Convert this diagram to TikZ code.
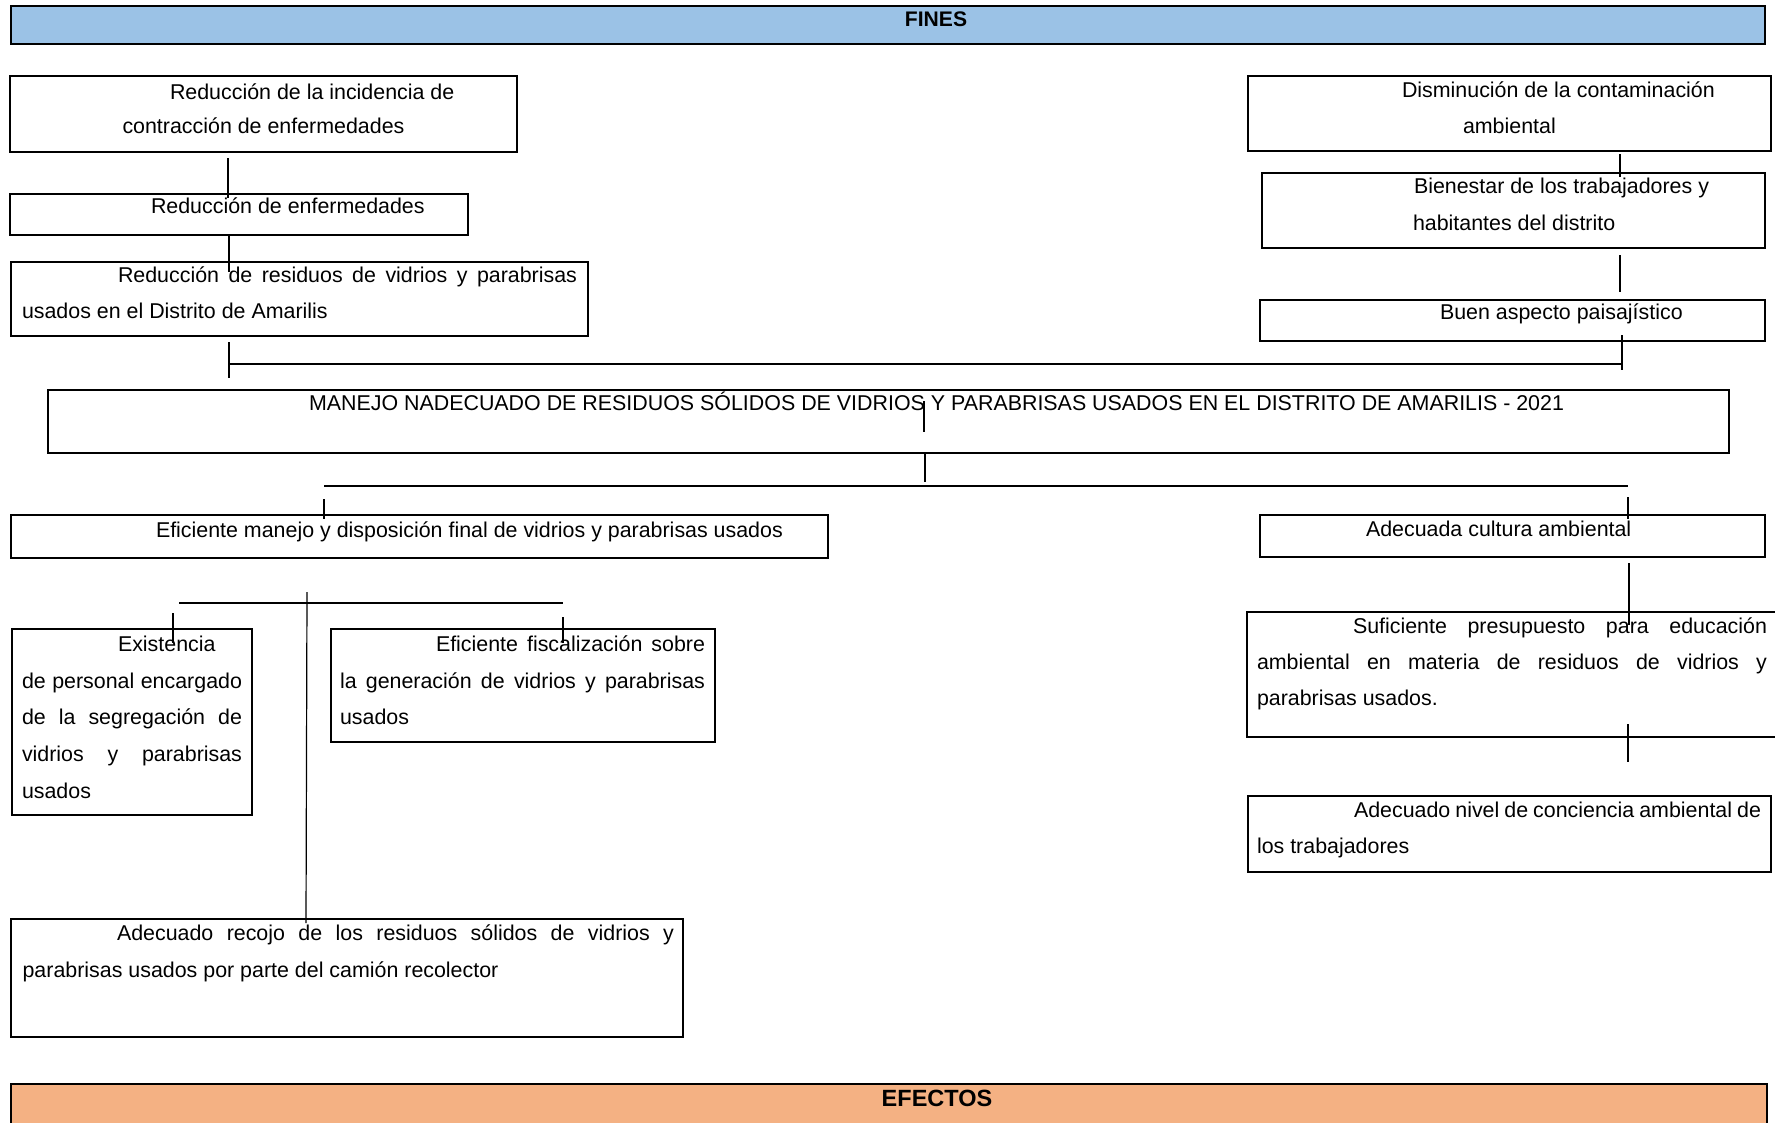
\documentclass[tikz,border=0pt]{standalone}
\usepackage{fontspec}
\setmainfont{Liberation Sans}
\definecolor{finesblue}{RGB}{155,194,230}
\definecolor{efectosorange}{RGB}{244,177,131}
\tikzset{
  boxframe/.style={draw=black, line width=2.2pt, fill=white},
  conn/.style={draw=black, line width=1.2pt},
  txt/.style={inner sep=0pt, outer sep=0pt, anchor=base west, font=\fontsize{21.4}{25}\selectfont},
  head/.style={inner sep=0pt, outer sep=0pt, anchor=base, font=\fontsize{21.1}{25}\selectfont\bfseries},
}
\newcommand{\jline}[2]{\makebox[#1pt][s]{#2}}
\begin{document}
\begin{tikzpicture}[x=1pt,y=-1pt]
\useasboundingbox (0,0) rectangle (1775,1122);
\fill[white] (0,0) rectangle (1775,1122);

% header / footer bands
\path[boxframe, fill=finesblue] (11,6) rectangle (1765,44);
\node[head] (fines) at (936,26) {FINES};
\path[boxframe, fill=efectosorange] (11,1084) rectangle (1767,1145);
\node[head, font=\fontsize{23.5}{27}\selectfont\bfseries] (efectos) at (937,1106) {EFECTOS};

% boxes
\path[boxframe] (10,76) rectangle (517,152);
\path[boxframe] (10,194) rectangle (468,235);
\path[boxframe] (11,262) rectangle (588,336);
\path[boxframe] (1248,76) rectangle (1771,151);
\path[boxframe] (1262,173) rectangle (1765,248);
\path[boxframe] (1260,300) rectangle (1765,341);
\path[boxframe] (48,390) rectangle (1729,453);
\path[boxframe] (11,515) rectangle (828,558);
\path[boxframe] (12,629) rectangle (252,815);
\path[boxframe] (331,629) rectangle (715,742);
\path[boxframe] (11,919) rectangle (683,1037);
\path[boxframe] (1260,515) rectangle (1765,557);
\path[boxframe] (1247,612) rectangle (1800,737);
\path[boxframe] (1248,796) rectangle (1771,872);

% texts
\node[txt] (r1a) at (170,99) {Reducción de la incidencia de};
\node[txt] (r1b) at (122.5,133) {contracción de enfermedades};
\node[txt] (r2a) at (151,213) {Reducción de enfermedades};
\node[txt] (r3a) at (118,282) {\jline{459}{Reducción de residuos de vidrios y parabrisas}};
\node[txt] (r3b) at (22,318) {usados en el Distrito de Amarilis};

\node[txt] (d1a) at (1402,97) {Disminución de la contaminación};
\node[txt] (d1b) at (1463,133) {ambiental};
\node[txt] (d2a) at (1414,193) {Bienestar de los trabajadores y};
\node[txt] (d2b) at (1413,230) {habitantes del distrito};
\node[txt] (d3a) at (1440,319) {Buen aspecto paisajístico};

\node[txt] (pa) at (309,410) {MANEJO NADECUADO DE RESIDUOS SÓLIDOS DE VIDRIOS Y PARABRISAS USADOS EN EL DISTRITO DE AMARILIS - 2021};

\node[txt] (m1a) at (156,537) {Eficiente manejo y disposición final de vidrios y parabrisas usados};

\node[txt] (m2a) at (118,651) {Existencia};
\node[txt] (m2b) at (22,688) {\jline{220}{de personal encargado}};
\node[txt] (m2c) at (22,724) {\jline{220}{de la segregación de}};
\node[txt] (m2d) at (22,761) {\jline{220}{vidrios y parabrisas}};
\node[txt] (m2e) at (22,798) {usados};

\node[txt] (m3a) at (436,651) {\jline{269}{Eficiente fiscalización sobre}};
\node[txt] (m3b) at (340,688) {\jline{365}{la generación de vidrios y parabrisas}};
\node[txt] (m3c) at (340,724) {usados};

\node[txt] (m4a) at (117,940) {\jline{557}{Adecuado recojo de los residuos sólidos de vidrios y}};
\node[txt] (m4b) at (22.6,977) {parabrisas usados por parte del camión recolector};

\node[txt] (a1a) at (1366,536) {Adecuada cultura ambiental};
\node[txt] (a2a) at (1353,633) {\jline{414}{Suficiente presupuesto para educación}};
\node[txt] (a2b) at (1257,669) {\jline{510}{ambiental en materia de residuos de vidrios y}};
\node[txt] (a2c) at (1257,705) {parabrisas usados.};
\node[txt] (a3a) at (1354,817) {\jline{407}{Adecuado nivel de conciencia ambiental de}};
\node[txt] (a3b) at (1257,853) {los trabajadores};

% connector points
\coordinate (l1a) at (228,158);  \coordinate (l1b) at (228,198);
\coordinate (l2a) at (229,235);  \coordinate (l2b) at (229,272);
\coordinate (l3a) at (229,342);  \coordinate (l3b) at (229,378);
\coordinate (h1a) at (229,364);  \coordinate (h1b) at (1622,364);
\coordinate (l4a) at (1620,154); \coordinate (l4b) at (1620,177);
\coordinate (l5a) at (1620,255); \coordinate (l5b) at (1620,292);
\coordinate (l6a) at (1622,335); \coordinate (l6b) at (1622,370);
\coordinate (l7a) at (924,401);  \coordinate (l7b) at (924,432);
\coordinate (l8a) at (925,452);  \coordinate (l8b) at (925,482);
\coordinate (h2a) at (324,486);  \coordinate (h2b) at (1628,486);
\coordinate (l9a) at (324,499);  \coordinate (l9b) at (324,519);
\coordinate (l10a) at (1628,497); \coordinate (l10b) at (1628,519);
\coordinate (h3a) at (179,603);  \coordinate (h3b) at (563,603);
\coordinate (l11a) at (307,592); \coordinate (l11b) at (306,923);
\coordinate (l12a) at (173,613); \coordinate (l12b) at (173,643);
\coordinate (l13a) at (563,617); \coordinate (l13b) at (563,643);
\coordinate (l14a) at (1629,563); \coordinate (l14b) at (1629,625);
\coordinate (l15a) at (1628,724); \coordinate (l15b) at (1628,762);

\draw[conn] (l1a) -- (l1b);
\draw[conn] (l2a) -- (l2b);
\draw[conn] (l3a) -- (l3b);
\draw[conn] (h1a) -- (h1b);
\draw[conn] (l4a) -- (l4b);
\draw[conn] (l5a) -- (l5b);
\draw[conn] (l6a) -- (l6b);
\draw[conn] (l7a) -- (l7b);
\draw[conn] (l8a) -- (l8b);
\draw[conn] (h2a) -- (h2b);
\draw[conn] (l9a) -- (l9b);
\draw[conn] (l10a) -- (l10b);
\draw[conn] (h3a) -- (h3b);
\draw[conn] (l11a) -- (l11b);
\draw[conn] (l12a) -- (l12b);
\draw[conn] (l13a) -- (l13b);
\draw[conn] (l14a) -- (l14b);
\draw[conn] (l15a) -- (l15b);
\end{tikzpicture}
\end{document}
